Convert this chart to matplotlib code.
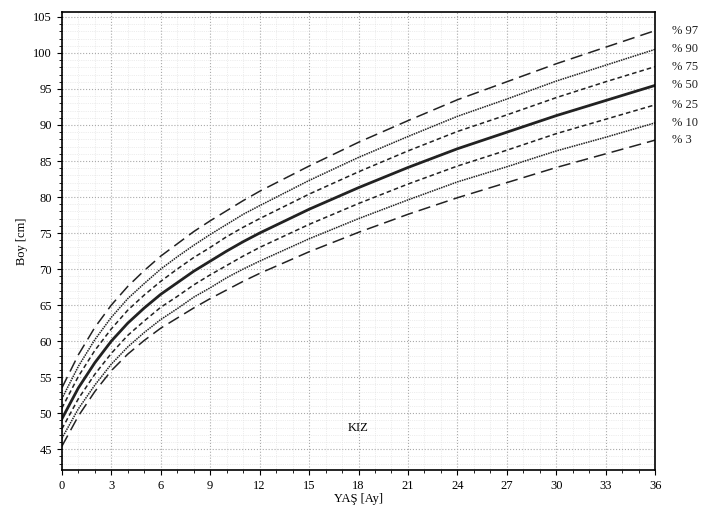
import matplotlib
matplotlib.use("Agg")
import matplotlib.pyplot as plt
from matplotlib.ticker import MultipleLocator

ages = [0,1,2,3,4,5,6,7,8,9,10,11,12,15,18,21,24,27,30,33,36]
p97 = [53.5,58.1,61.9,65.0,67.6,69.8,71.8,73.5,75.2,76.7,78.1,79.5,80.8,84.3,87.6,90.6,93.5,96.0,98.5,100.8,103.1]
p90 = [52.0,56.5,60.2,63.3,65.9,68.0,70.0,71.7,73.3,74.8,76.2,77.6,78.8,82.3,85.5,88.4,91.2,93.6,96.1,98.3,100.5]
p75 = [50.7,55.1,58.7,61.7,64.3,66.4,68.3,70.0,71.6,73.0,74.5,75.8,77.0,80.4,83.5,86.4,89.1,91.4,93.8,96.0,98.1]
p50 = [49.2,53.5,57.0,60.0,62.5,64.6,66.5,68.1,69.7,71.1,72.5,73.8,75.0,78.3,81.3,84.1,86.7,89.0,91.3,93.4,95.5]
p25 = [47.8,52.0,55.4,58.3,60.8,62.8,64.7,66.2,67.8,69.2,70.5,71.8,73.0,76.2,79.1,81.8,84.3,86.5,88.8,90.8,92.8]
p10 = [46.5,50.6,53.9,56.8,59.2,61.2,63.0,64.5,66.1,67.4,68.8,70.0,71.1,74.2,77.0,79.6,82.1,84.2,86.4,88.3,90.3]
p3 = [45.4,49.6,53.0,55.9,58.2,60.1,61.8,63.2,64.6,65.9,67.1,68.3,69.4,72.4,75.1,77.6,79.9,82.0,84.1,86.0,87.9]
labels = ["% 97","% 90","% 75","% 50","% 25","% 10","% 3"]
xticks = list(range(0,37,3))
yticks = list(range(45,106,5))

plt.rcParams['font.family'] = ['Liberation Serif','DejaVu Serif']
fig = plt.figure(figsize=(7.03,5.16), dpi=100)
ax = fig.add_axes([0.088,0.089,0.844,0.888])
series = [p97,p90,p75,p50,p25,p10,p3]
styles = [dict(ls=(0,(8,4)),lw=1.1), dict(ls=(0,(1,0.6)),lw=1.1), dict(ls=(0,(3,2)),lw=1.1),
          dict(ls='-',lw=2.0), dict(ls=(0,(3,2)),lw=1.1), dict(ls=(0,(1,0.6)),lw=1.1), dict(ls=(0,(8,4)),lw=1.1)]
for s, st, lab in zip(series, styles, labels):
    ax.plot(ages, s, color='#222222', **st)
    ax.annotate(lab, xy=(36, s[-1]), xytext=(12, 0), textcoords='offset points',
                va='center', ha='left', fontsize=9, color='#222222', annotation_clip=False)
ax.set_xlim(0,36)
ax.set_ylim(42.1,105.7)
ax.set_xticks(xticks)
ax.set_yticks(yticks)
ax.xaxis.set_minor_locator(MultipleLocator(1))
ax.yaxis.set_minor_locator(MultipleLocator(1))
ax.grid(which='major', color='#aaaaaa', ls=':', lw=0.8)
ax.grid(which='minor', color='#dddddd', ls=':', lw=0.5)
ax.tick_params(labelsize=9, direction='out')
ax.tick_params(which='minor', length=2)
ax.set_xlabel('YAŞ [Ay]', fontsize=9, labelpad=1)
ax.set_ylabel('Boy [cm]', fontsize=9)
ax.text(18, 47.9, 'KIZ', fontsize=9, ha='center', va='center')
for sp in ax.spines.values():
    sp.set_linewidth(1.2)
fig.savefig('out.png', dpi=100)
